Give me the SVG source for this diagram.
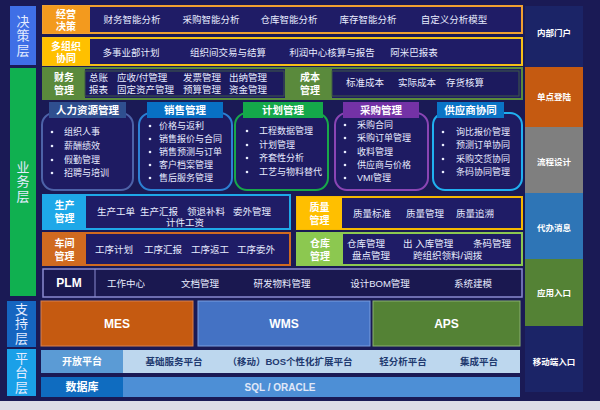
<svg xmlns="http://www.w3.org/2000/svg" width="600" height="410" viewBox="0 0 600 410">
<style>
text{font-family:"Liberation Sans","Noto Sans CJK SC",sans-serif;fill:#ffffff;dominant-baseline:central}
.c{text-anchor:middle}
.b{font-weight:bold}
.it{font-size:9.5px;fill:#e8ecff}
.li{font-size:9px;fill:#e8ecff}
.lb{font-size:10px;font-weight:bold;text-anchor:middle}
.ly{font-family:"Noto Sans CJK SC",sans-serif;font-size:13px;text-anchor:middle;fill:#e4ecff;writing-mode:vertical-rl;letter-spacing:1.5px;dominant-baseline:auto}
.hd{font-size:10.5px;font-weight:bold;text-anchor:middle}
.rc{font-size:8.5px;font-weight:bold;text-anchor:middle}
.pf{font-size:9.5px;font-weight:bold;text-anchor:middle;fill:#1f3a70}
.in{fill:#1f1c66}
.inner{fill:#1c1a5e;stroke:#3f5a45;stroke-width:1}
.fb{fill:#1e1b62;stroke-width:2}
.dot{fill:#e8ecff}
.sup{font-size:12px;font-weight:bold;text-anchor:middle}
</style>
<rect x="0" y="0" width="600" height="410" fill="#1a1a55"/>
<rect x="0" y="401" width="600" height="9" fill="#dcdce6"/>

<g id="layer-decision">
<rect x="10" y="6" width="26" height="59" fill="#3f6fe6"/>
<text class="ly" x="23" y="36">决策层</text>
</g>
<g id="layer-business">
<rect x="10" y="68" width="26" height="228" fill="#10b050"/>
<text class="ly" x="23" y="182">业务层</text>
</g>
<g id="layer-support">
<rect x="7" y="301" width="29" height="46" fill="#1565c0"/>
<text class="ly" x="21.5" y="324">支持层</text>
</g>
<g id="layer-platform">
<rect x="7" y="349" width="29" height="47" fill="#1aa0e8"/>
<text class="ly" x="21.5" y="373">平台层</text>
</g>

<g id="decision">
<rect x="43" y="6" width="479" height="27" class="in" stroke="#f0a030" stroke-width="2"/>
<rect x="43" y="6" width="47" height="27" fill="#f39a1e"/>
<text class="lb"><tspan x="66" y="13.5">经营</tspan><tspan x="66" y="26">决策</tspan></text>
<text class="it c" x="132" y="19.5">财务智能分析</text>
<text class="it c" x="211" y="19.5">采购智能分析</text>
<text class="it c" x="289" y="19.5">仓库智能分析</text>
<text class="it c" x="368" y="19.5">库存智能分析</text>
<text class="it c" x="454" y="19.5">自定义分析模型</text>
</g>

<g id="multi-org">
<rect x="43" y="38" width="479" height="27" class="in" stroke="#f5c018" stroke-width="2"/>
<rect x="43" y="38" width="47" height="27" fill="#ffc000"/>
<text class="lb"><tspan x="66" y="45.5">多组织</tspan><tspan x="66" y="58">协同</tspan></text>
<text class="it c" x="131" y="52">多事业部计划</text>
<text class="it c" x="228" y="52">组织间交易与结算</text>
<text class="it c" x="332" y="52">利润中心核算与报告</text>
<text class="it c" x="414" y="52">阿米巴报表</text>
</g>

<g id="finance">
<rect x="43" y="68" width="243" height="31" class="in" stroke="#5a8a3c" stroke-width="2"/>
<rect x="43" y="68" width="42" height="31" fill="#5a8a3c"/>
<rect x="85" y="71" width="199" height="25" class="inner"/>
<text class="lb"><tspan x="64" y="77">财务</tspan><tspan x="64" y="89.5">管理</tspan></text>
<text class="it" x="89" y="77">总账</text>
<text class="it" x="117" y="77">应收/付管理</text>
<text class="it" x="183" y="77">发票管理</text>
<text class="it" x="229" y="77">出纳管理</text>
<text class="it" x="89" y="89">报表</text>
<text class="it" x="117" y="89">固定资产管理</text>
<text class="it" x="183" y="89">预算管理</text>
<text class="it" x="229" y="89">资金管理</text>
</g>

<g id="cost">
<rect x="288" y="68" width="234" height="31" class="in" stroke="#5a8a3c" stroke-width="2"/>
<rect x="288" y="68" width="44" height="31" fill="#5a8a3c"/>
<rect x="332" y="71" width="187" height="25" class="inner"/>
<text class="lb"><tspan x="310" y="77">成本</tspan><tspan x="310" y="89.5">管理</tspan></text>
<text class="it c" x="365" y="82">标准成本</text>
<text class="it c" x="417" y="82">实际成本</text>
<text class="it c" x="465" y="82">存货核算</text>
</g>

<g id="hr">
<rect x="42" y="113" width="91" height="77" rx="12" class="fb" stroke="#4d62a8"/>
<rect x="49" y="102" width="77" height="16" fill="#2f4f8f"/>
<text class="hd" x="87.5" y="110">人力资源管理</text>
<circle class="dot" cx="52" cy="132" r="1.3"/><text class="li" x="64" y="132">组织人事</text>
<circle class="dot" cx="52" cy="146" r="1.3"/><text class="li" x="64" y="146">薪酬绩效</text>
<circle class="dot" cx="52" cy="160" r="1.3"/><text class="li" x="64" y="160">假勤管理</text>
<circle class="dot" cx="52" cy="173" r="1.3"/><text class="li" x="64" y="173">招聘与培训</text>
</g>

<g id="sales">
<rect x="139" y="113" width="93" height="77" rx="12" class="fb" stroke="#2c80d4"/>
<rect x="147" y="102" width="76" height="16" fill="#0870c4"/>
<text class="hd" x="185" y="110">销售管理</text>
<circle class="dot" cx="150" cy="126" r="1.3"/><text class="li" x="159" y="126">价格与返利</text>
<circle class="dot" cx="150" cy="139" r="1.3"/><text class="li" x="159" y="139">销售报价与合同</text>
<circle class="dot" cx="150" cy="152" r="1.3"/><text class="li" x="159" y="152">销售预测与订单</text>
<circle class="dot" cx="150" cy="165" r="1.3"/><text class="li" x="159" y="165">客户档案管理</text>
<circle class="dot" cx="150" cy="178" r="1.3"/><text class="li" x="159" y="178">售后服务管理</text>
</g>

<g id="planning">
<rect x="235" y="113" width="93" height="77" rx="12" class="fb" stroke="#18a84a"/>
<rect x="243" y="102" width="80" height="16" fill="#14a84a"/>
<text class="hd" x="283" y="110">计划管理</text>
<circle class="dot" cx="247" cy="131" r="1.3"/><text class="li" x="259" y="131">工程数据管理</text>
<circle class="dot" cx="247" cy="145" r="1.3"/><text class="li" x="259" y="145">计划管理</text>
<circle class="dot" cx="247" cy="158" r="1.3"/><text class="li" x="259" y="158">齐套性分析</text>
<circle class="dot" cx="247" cy="172" r="1.3"/><text class="li" x="259" y="172">工艺与物料替代</text>
</g>

<g id="purchase">
<rect x="335" y="113" width="93" height="77" rx="12" class="fb" stroke="#8a45b4"/>
<rect x="343" y="102" width="76" height="16" fill="#7432a6"/>
<text class="hd" x="381" y="110">采购管理</text>
<circle class="dot" cx="345" cy="125" r="1.3"/><text class="li" x="357" y="125">采购合同</text>
<circle class="dot" cx="345" cy="138" r="1.3"/><text class="li" x="357" y="138">采购订单管理</text>
<circle class="dot" cx="345" cy="152" r="1.3"/><text class="li" x="357" y="152">收料管理</text>
<circle class="dot" cx="345" cy="165" r="1.3"/><text class="li" x="357" y="165">供应商与价格</text>
<circle class="dot" cx="345" cy="178" r="1.3"/><text class="li" x="357" y="178">VMI管理</text>
</g>

<g id="supplier">
<rect x="433" y="113" width="89" height="77" rx="12" class="fb" stroke="#20b0f0"/>
<rect x="437" y="102" width="67" height="16" fill="#0a74c6"/>
<text class="hd" x="470.5" y="110">供应商协同</text>
<circle class="dot" cx="443" cy="132" r="1.3"/><text class="li" x="456" y="132">询比报价管理</text>
<circle class="dot" cx="443" cy="145" r="1.3"/><text class="li" x="456" y="145">预测订单协同</text>
<circle class="dot" cx="443" cy="159" r="1.3"/><text class="li" x="456" y="159">采购交货协同</text>
<circle class="dot" cx="443" cy="172" r="1.3"/><text class="li" x="456" y="172">条码协同管理</text>
</g>

<g id="production">
<rect x="43" y="195" width="247" height="34" class="in" stroke="#1ea8e8" stroke-width="2"/>
<rect x="43" y="195" width="43" height="34" fill="#1ea8e8"/>
<text class="lb"><tspan x="64.5" y="205">生产</tspan><tspan x="64.5" y="218">管理</tspan></text>
<text class="it" x="97" y="211">生产工单</text>
<text class="it" x="140" y="211">生产汇报</text>
<text class="it" x="187" y="211">领退补料</text>
<text class="it" x="233" y="211">委外管理</text>
<text class="it c" x="185" y="222">计件工资</text>
</g>

<g id="workshop">
<rect x="43" y="233" width="247" height="32" class="in" stroke="#d06a20" stroke-width="2"/>
<rect x="43" y="233" width="43" height="32" fill="#d06a20"/>
<text class="lb"><tspan x="64.5" y="243">车间</tspan><tspan x="64.5" y="256">管理</tspan></text>
<text class="it" x="95" y="249">工序计划</text>
<text class="it" x="144" y="249">工序汇报</text>
<text class="it" x="191" y="249">工序返工</text>
<text class="it" x="237" y="249">工序委外</text>
</g>

<g id="quality">
<rect x="297" y="197" width="225" height="32" class="in" stroke="#f5b800" stroke-width="2"/>
<rect x="297" y="197" width="45" height="32" fill="#ffbf00"/>
<text class="lb"><tspan x="319.5" y="206.5">质量</tspan><tspan x="319.5" y="219.5">管理</tspan></text>
<text class="it" x="353" y="213">质量标准</text>
<text class="it" x="406" y="213">质量管理</text>
<text class="it" x="456" y="213">质量追溯</text>
</g>

<g id="warehouse">
<rect x="297" y="233" width="225" height="32" class="in" stroke="#8cc850" stroke-width="2"/>
<rect x="297" y="233" width="46" height="32" fill="#8cc850"/>
<text class="lb"><tspan x="320" y="243">仓库</tspan><tspan x="320" y="255.5">管理</tspan></text>
<text class="it" x="347" y="243">仓库管理</text>
<text class="it" x="403" y="243">出 入库管理</text>
<text class="it" x="473" y="243">条码管理</text>
<text class="it" x="352" y="255">盘点管理</text>
<text class="it" x="413" y="255">跨组织领料/调拨</text>
</g>

<g id="plm">
<rect x="43" y="269" width="479" height="28" fill="#1a1850" stroke="#8a8ad0" stroke-width="1.5"/>
<line x1="95" y1="269" x2="95" y2="297" stroke="#8a8ad0" stroke-width="1"/>
<text class="c b" x="69" y="283" font-size="12">PLM</text>
<text class="it c" x="126" y="283">工作中心</text>
<text class="it c" x="200" y="283">文档管理</text>
<text class="it c" x="282" y="283">研发物料管理</text>
<text class="it c" x="380" y="283">设计BOM管理</text>
<text class="it c" x="473" y="283">系统建模</text>
</g>

<g id="mes">
<rect x="41" y="301" width="152" height="45" fill="#c55a11" stroke="#d88050" stroke-width="1"/>
<text class="sup" x="117" y="323.5">MES</text>
</g>
<g id="wms">
<rect x="198" y="301" width="172" height="45" fill="#4472c4" stroke="#7a9ee0" stroke-width="1"/>
<text class="sup" x="284" y="323.5">WMS</text>
</g>
<g id="aps">
<rect x="373" y="301" width="147" height="45" fill="#548235" stroke="#8ab070" stroke-width="1"/>
<text class="sup" x="446.5" y="323.5">APS</text>
</g>

<g id="platform">
<rect x="41" y="350" width="479" height="23" fill="#bdd7ee"/>
<rect x="41" y="350" width="82" height="23" fill="#5b9bd5"/>
<text class="c b" x="82" y="361.5" font-size="10">开放平台</text>
<text class="pf" x="174" y="361.5">基础服务平台</text>
<text class="pf" x="290" y="361.5">（移动）BOS个性化扩展平台</text>
<text class="pf" x="403" y="361.5">轻分析平台</text>
<text class="pf" x="479" y="361.5">集成平台</text>
</g>
<g id="database">
<rect x="41" y="377" width="479" height="20" fill="#4d8fd6"/>
<rect x="41" y="377" width="82" height="20" fill="#0f6cc0"/>
<text class="c b" x="82" y="387" font-size="11">数据库</text>
<text class="c b" x="280" y="387" font-size="10" style="fill:#e0e8f8">SQL / ORACLE</text>
</g>

<g id="portal"><rect x="525" y="6" width="58" height="61" fill="#1b2467"/><text class="rc" x="554" y="33">内部门户</text></g>
<g id="sso"><rect x="525" y="67" width="58" height="60" fill="#c55a11"/><text class="rc" x="554" y="97">单点登陆</text></g>
<g id="workflow"><rect x="525" y="127" width="58" height="66" fill="#7f7f7f"/><text class="rc" x="554" y="162">流程设计</text></g>
<g id="todo"><rect x="525" y="193" width="58" height="66" fill="#2e75b6"/><text class="rc" x="554" y="228">代办消息</text></g>
<g id="app-entry"><rect x="525" y="259" width="58" height="67" fill="#548235"/><text class="rc" x="554" y="293">应用入口</text></g>
<g id="mobile-entry"><rect x="525" y="326" width="58" height="66" fill="#1b2467"/><text class="rc" x="554" y="362">移动端入口</text></g>

<g id="connectors"/>
</svg>
